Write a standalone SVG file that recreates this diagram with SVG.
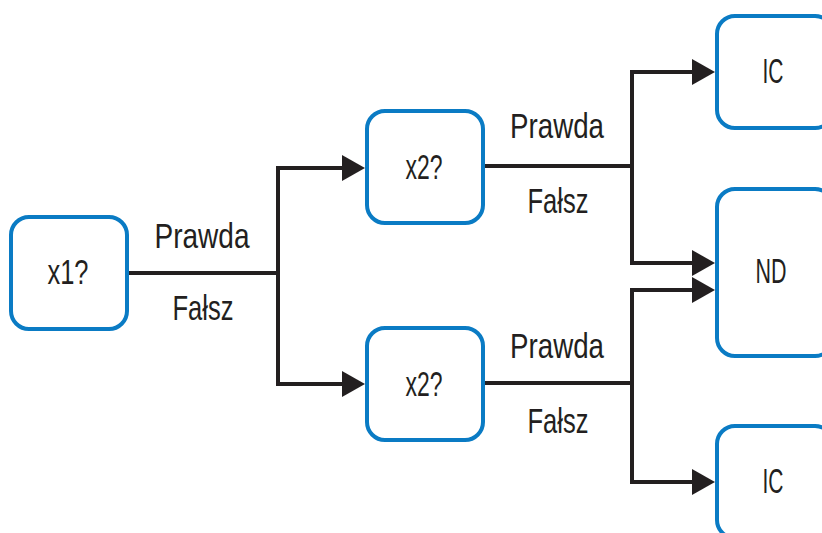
<svg xmlns="http://www.w3.org/2000/svg" width="822" height="533" viewBox="0 0 822 533">
<defs>
<style>
.box{fill:#ffffff;stroke:#0a7bc4;stroke-width:4}
.ln{fill:none;stroke:#231f20;stroke-width:4;stroke-linejoin:miter}
.t{font-family:"Liberation Sans",Arial,sans-serif;font-size:35px;fill:#231f20;text-anchor:middle}
</style>
<marker id="ah" markerUnits="userSpaceOnUse" markerWidth="24" markerHeight="28" refX="19" refY="13" orient="auto" viewBox="0 0 24 28">
<path d="M0,0 L23,13 L0,26 z" fill="#231f20"/>
</marker>
</defs>
<rect width="822" height="533" fill="#ffffff"/>
<g id="connectors">
<path class="ln" d="M128,273 H278"/>
<path class="ln" d="M278,273 V168 H361" marker-end="url(#ah)"/>
<path class="ln" d="M278,273 V384 H361" marker-end="url(#ah)"/>
<path class="ln" d="M483,166 H632"/>
<path class="ln" d="M632,166 V72 H711" marker-end="url(#ah)"/>
<path class="ln" d="M632,166 V263 H711" marker-end="url(#ah)"/>
<path class="ln" d="M483,383 H632"/>
<path class="ln" d="M632,383 V290 H711" marker-end="url(#ah)"/>
<path class="ln" d="M632,383 V482 H711" marker-end="url(#ah)"/>
</g>
<g id="labels">
<text class="t" x="202" y="248" textLength="95" lengthAdjust="spacingAndGlyphs">Prawda</text>
<text class="t" x="203" y="320" textLength="61" lengthAdjust="spacingAndGlyphs">Fałsz</text>
<text class="t" x="557" y="138" textLength="94" lengthAdjust="spacingAndGlyphs">Prawda</text>
<text class="t" x="558" y="213" textLength="61" lengthAdjust="spacingAndGlyphs">Fałsz</text>
<text class="t" x="557" y="358" textLength="94" lengthAdjust="spacingAndGlyphs">Prawda</text>
<text class="t" x="558" y="433" textLength="61" lengthAdjust="spacingAndGlyphs">Fałsz</text>
</g>
<g id="n-x1">
<rect class="box" x="11" y="217" width="116" height="112" rx="18"/>
<text class="t" x="68" y="284" textLength="41" lengthAdjust="spacingAndGlyphs">x1?</text>
</g>
<g id="n-x2a">
<rect class="box" x="367" y="111" width="116" height="112" rx="18"/>
<text class="t" x="424" y="179" textLength="37" lengthAdjust="spacingAndGlyphs">x2?</text>
</g>
<g id="n-x2b">
<rect class="box" x="367" y="328" width="116" height="112" rx="18"/>
<text class="t" x="424" y="396" textLength="37" lengthAdjust="spacingAndGlyphs">x2?</text>
</g>
<g id="n-ic1">
<rect class="box" x="717" y="16" width="116" height="112" rx="18"/>
<text class="t" x="773" y="83" textLength="21" lengthAdjust="spacingAndGlyphs">IC</text>
</g>
<g id="n-nd">
<rect class="box" x="717" y="189" width="116" height="167" rx="18"/>
<text class="t" x="771" y="283" textLength="31" lengthAdjust="spacingAndGlyphs">ND</text>
</g>
<g id="n-ic2">
<rect class="box" x="717" y="426" width="116" height="112" rx="18"/>
<text class="t" x="773" y="493" textLength="21" lengthAdjust="spacingAndGlyphs">IC</text>
</g>
</svg>
